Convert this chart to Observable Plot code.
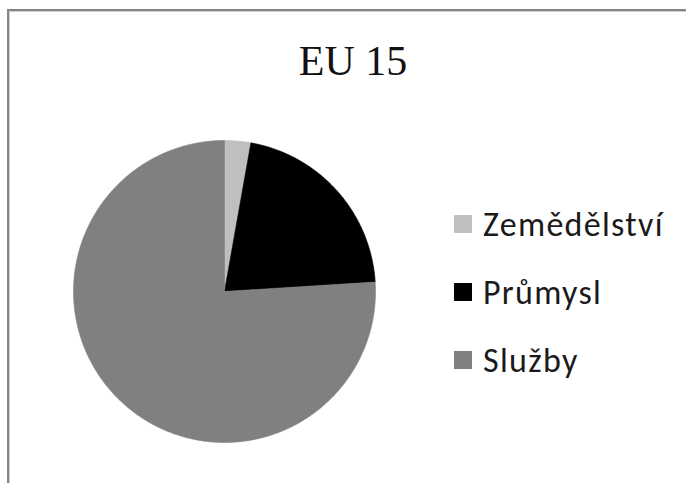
<!DOCTYPE html>
<html>
<head>
<meta charset="utf-8">
<script src="https://cdn.jsdelivr.net/npm/d3@7"></script>
<script src="https://cdn.jsdelivr.net/npm/@observablehq/plot@0.6"></script>
<style>
  html, body { margin: 0; padding: 0; background: #fff; }
  #wrap { position: relative; width: 686px; height: 483px; overflow: hidden; background: #fff; }
  #frame { position: absolute; left: 7px; top: 9px; width: 720px; height: 520px;
           border-top: 2px solid #858585; border-left: 2px solid #858585;
           box-shadow: inset 1px 1px 0 #cfcfcf; }
  #title { position: absolute; left: 0; top: 36px; width: 706px; text-align: center;
           font-family: "Liberation Serif", "Times New Roman", serif; font-size: 42px; color: #111; line-height: 50px; }
  #chart { position: absolute; left: 0; top: 0; }
  #legend { position: absolute; left: 454px; top: 0; font-family: Carlito, Lato, sans-serif; font-size: 34px; letter-spacing: 1.3px; color: #1a1a1a; }
  .item { position: absolute; left: 0; white-space: nowrap; display: flex; align-items: center; height: 40px; }
  .sw { width: 18px; height: 18px; margin-right: 11px; display: inline-block; }
</style>
</head>
<body>
<div id="wrap">
  <div id="frame"></div>
  <div id="chart"></div>
  <div id="title"></div>
  <div id="legend"></div>
</div>
<script>
// ---- data ----
const title = "EU 15";
const categories = ["Zemědělství", "Průmysl", "Služby"];
const values = [2.8, 21.2, 76.0];
const colors = ["#bfbfbf", "#000000", "#808080"];

// ---- build slice outlines from the pie layout ----
const arcs = d3.pie().sort(null).value(d => d)(values);
const pts = [];
arcs.forEach((a, i) => {
  const cat = categories[i];
  pts.push({cat, x: 0, y: 0});
  const n = Math.max(2, Math.ceil((a.endAngle - a.startAngle) / 0.01));
  for (let k = 0; k <= n; k++) {
    const t = a.startAngle + (a.endAngle - a.startAngle) * k / n;
    pts.push({cat, x: Math.sin(t), y: Math.cos(t)});
  }
  pts.push({cat, x: 0, y: 0});
});

const cx = 224, cy = 291, r = 151;
const chart = Plot.plot({
  width: 686,
  height: 483,
  margin: 0,
  x: {domain: [-1, 1], range: [cx - r, cx + r], axis: null},
  y: {domain: [-1, 1], range: [cy + r, cy - r], axis: null},
  color: {domain: categories, range: colors},
  style: {background: "transparent", overflow: "visible"},
  marks: [
    Plot.line(pts, {x: "x", y: "y", z: "cat", fill: "cat", stroke: "cat", strokeWidth: 0.6, curve: "linear"})
  ]
});
document.getElementById("chart").append(chart);

document.getElementById("title").textContent = title;

const legend = document.getElementById("legend");
const rowY = [224, 292, 360];
categories.forEach((c, i) => {
  const it = document.createElement("div");
  it.className = "item";
  it.style.top = (rowY[0] + i * (rowY[2] - rowY[0]) / 2 - 20) + "px";
  const sw = document.createElement("span");
  sw.className = "sw";
  sw.style.background = colors[i];
  const tx = document.createElement("span");
  tx.textContent = c;
  it.append(sw, tx);
  legend.append(it);
});
</script>
</body>
</html>
